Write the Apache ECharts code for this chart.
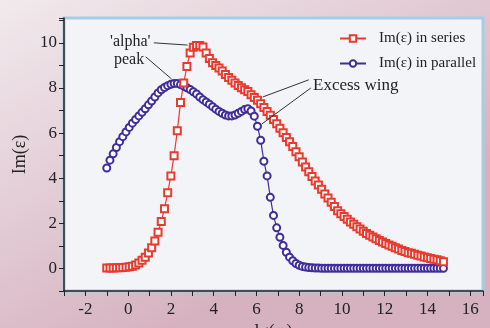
<!DOCTYPE html>
<html>
<head>
<meta charset="utf-8">
<script src="https://cdn.jsdelivr.net/npm/echarts@6/dist/echarts.min.js"></script>
<style>
  html, body { margin: 0; padding: 0; }
  #chart { width: 490px; height: 328px; }
</style>
</head>
<body>
<div id="chart"></div>
<script>
// lg(omega) sample points, shared by both curves
const lgOmega = [
  -1, -0.85, -0.7, -0.55, -0.4, -0.25, -0.1, 0.05, 0.2, 0.35,
  0.5, 0.65, 0.8, 0.95, 1.1, 1.25, 1.4, 1.55, 1.7, 1.85,
  2, 2.15, 2.3, 2.45, 2.6, 2.75, 2.9, 3.05, 3.2, 3.35,
  3.5, 3.65, 3.8, 3.95, 4.1, 4.25, 4.4, 4.55, 4.7, 4.85,
  5, 5.15, 5.3, 5.45, 5.6, 5.75, 5.9, 6.05, 6.2, 6.35,
  6.5, 6.65, 6.8, 6.95, 7.1, 7.25, 7.4, 7.55, 7.7, 7.85,
  8, 8.15, 8.3, 8.45, 8.6, 8.75, 8.9, 9.05, 9.2, 9.35,
  9.5, 9.65, 9.8, 9.95, 10.1, 10.25, 10.4, 10.55, 10.7, 10.85,
  11, 11.15, 11.3, 11.45, 11.6, 11.75, 11.9, 12.05, 12.2, 12.35,
  12.5, 12.65, 12.8, 12.95, 13.1, 13.25, 13.4, 13.55, 13.7, 13.85,
  14, 14.15, 14.3, 14.45, 14.6, 14.75
];

const imSeries = [
  0.02, 0.02, 0.02, 0.03, 0.03, 0.04, 0.05, 0.07, 0.1, 0.15,
  0.24, 0.36, 0.5, 0.68, 0.92, 1.22, 1.6, 2.08, 2.65, 3.35,
  4.1, 5.0, 6.1, 7.35, 8.22, 8.95, 9.55, 9.8, 9.88, 9.88,
  9.82, 9.55, 9.3, 9.12, 9.0, 8.88, 8.75, 8.6, 8.46, 8.34,
  8.22, 8.11, 8.01, 7.92, 7.84, 7.7, 7.58, 7.45, 7.3, 7.13,
  6.96, 6.79, 6.6, 6.41, 6.21, 6.01, 5.8, 5.61, 5.4, 5.17,
  4.95, 4.72, 4.5, 4.28, 4.08, 3.88, 3.7, 3.51, 3.3, 3.12,
  2.93, 2.74, 2.56, 2.42, 2.3, 2.18, 2.06, 1.96, 1.85, 1.75,
  1.65, 1.55, 1.47, 1.39, 1.32, 1.24, 1.17, 1.11, 1.04, 0.98,
  0.92, 0.86, 0.8, 0.75, 0.7, 0.67, 0.63, 0.58, 0.55, 0.51,
  0.47, 0.44, 0.41, 0.38, 0.34, 0.3
];

const imParallel = [
  4.45, 4.8, 5.08, 5.36, 5.62, 5.84, 6.05, 6.25, 6.44, 6.6,
  6.76, 6.92, 7.08, 7.25, 7.42, 7.6, 7.78, 7.92, 8.02, 8.1,
  8.16, 8.2, 8.2, 8.15, 8.08, 8.01, 7.93, 7.83, 7.73, 7.6,
  7.48, 7.38, 7.28, 7.17, 7.06, 6.96, 6.88, 6.8, 6.76, 6.76,
  6.8, 6.88, 6.96, 7.04, 7.08, 6.98, 6.75, 6.3, 5.68, 4.75,
  4.1, 3.15, 2.35, 1.8, 1.38, 1.02, 0.72, 0.5, 0.34, 0.22,
  0.14, 0.09, 0.06, 0.04, 0.03, 0.02, 0.02, 0.01, 0.01, 0.01,
  0.01, 0.01, 0.01, 0.01, 0.01, 0.01, 0.01, 0.01, 0.01, 0.01,
  0.01, 0.01, 0.01, 0.01, 0.01, 0.01, 0.01, 0.01, 0.01, 0.01,
  0.01, 0.01, 0.01, 0.01, 0.01, 0.01, 0.01, 0.01, 0.01, 0.01,
  0.01, 0.01, 0.01, 0.01, 0.01, 0.01
];

const seriesNames = ['Im(ε) in series', 'Im(ε) in parallel'];

// annotation arrows, [from, to] in data coordinates
const arrows = [
  [[1.2, 10.0], [2.78, 9.9]],
  [[0.82, 9.38], [2.03, 8.4]],
  [[8.45, 8.36], [6.3, 7.6]],
  [[8.55, 8.0], [6.25, 6.4]]
];

const font = '"Liberation Serif", "DejaVu Serif", serif';
const ink = '#222';
const red = '#e63b2e';
const blue = '#412c9c';

const toPairs = ys => ys.map((y, i) => [lgOmega[i], y]);

const chart = echarts.init(document.getElementById('chart'));

const option = {
  animation: false,
  backgroundColor: {
    type: 'linear', x: 0, y: 0, x2: 0.35, y2: 1,
    colorStops: [
      { offset: 0, color: '#f1eaed' },
      { offset: 1, color: '#d6b2c0' }
    ]
  },
  grid: {
    left: 64, right: 7, top: 18, bottom: 37,
    outerBoundsMode: 'none',
    show: true,
    backgroundColor: '#f3f4f8',
    borderColor: '#a6cde8',
    borderWidth: 3
  },
  legend: {
    data: seriesNames,
    orient: 'vertical',
    left: 334,
    top: 26,
    itemWidth: 26,
    itemHeight: 8,
    itemGap: 10,
    textStyle: { fontFamily: font, fontSize: 15, color: ink, padding: [0, 0, 0, 8] }
  },
  xAxis: {
    type: 'value',
    min: -3,
    max: 16.6,
    interval: 1,
    name: 'lg(ω)',
    nameLocation: 'middle',
    nameGap: 26,
    nameTextStyle: { fontFamily: font, fontSize: 18, color: ink },
    axisLine: { onZero: false, lineStyle: { color: ink, width: 1.5 } },
    axisTick: { length: 5, lineStyle: { color: ink } },
    axisLabel: {
      formatter: v => (v % 2 === 0 ? String(v) : ''),
      fontFamily: font, fontSize: 17, color: ink, margin: 10
    },
    splitLine: { show: false }
  },
  yAxis: {
    type: 'value',
    min: -1,
    max: 11.1,
    interval: 1,
    name: 'Im(ε)',
    nameLocation: 'middle',
    nameGap: 29,
    nameTextStyle: { fontFamily: font, fontSize: 18, color: ink },
    axisLine: { onZero: false, lineStyle: { color: ink, width: 1.5 } },
    axisTick: { length: 5, lineStyle: { color: ink } },
    axisLabel: {
      formatter: v => (v % 2 === 0 ? String(v) : ''),
      fontFamily: font, fontSize: 17, color: ink, margin: 7
    },
    splitLine: { show: false }
  },
  graphic: [
    { type: 'text', left: 110, top: 34, style: { text: "'alpha'", font: '16px ' + font, fill: ink } },
    { type: 'text', left: 114, top: 52, style: { text: 'peak', font: '16px ' + font, fill: ink } },
    { type: 'text', left: 313, top: 77, style: { text: 'Excess wing', font: '17px ' + font, fill: ink } }
  ],
  series: [
    {
      name: seriesNames[1],
      type: 'line',
      data: toPairs(imParallel),
      symbol: 'emptyCircle',
      symbolSize: 7,
      lineStyle: { color: blue, width: 1.2 },
      itemStyle: { color: blue, borderWidth: 1.6 }
    },
    {
      name: seriesNames[0],
      type: 'line',
      data: toPairs(imSeries),
      symbol: 'emptyRect',
      symbolSize: 7,
      lineStyle: { color: red, width: 1.2 },
      itemStyle: { color: red, borderWidth: 1.5 },
      markLine: {
        silent: true,
        symbol: ['none', 'arrow'],
        symbolSize: [0, 7],
        lineStyle: { color: '#333', width: 1, type: 'solid' },
        label: { show: false },
        data: arrows.map(a => [{ coord: a[0] }, { coord: a[1] }])
      }
    }
  ]
};

chart.setOption(option);
</script>
</body>
</html>
